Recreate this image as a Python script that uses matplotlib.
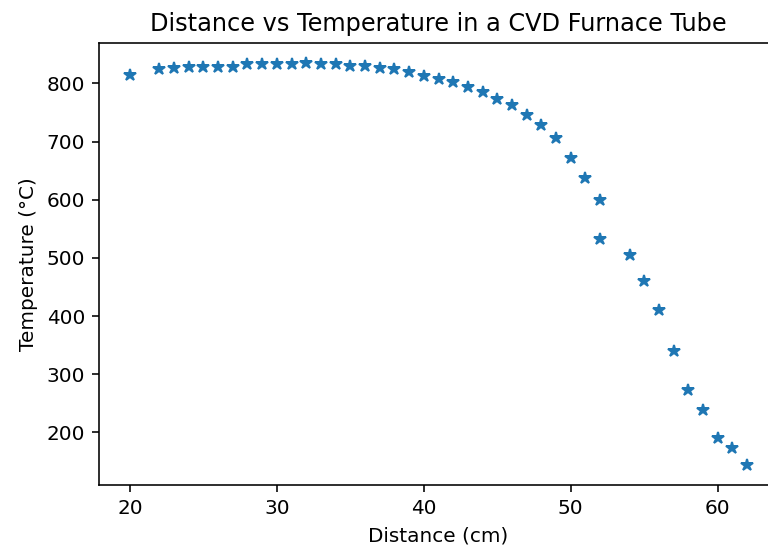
import matplotlib
matplotlib.use("Agg")
import matplotlib.pyplot as plt

# distance along the tube (cm) and measured temperature (C)
distance = [20, 22, 23, 24, 25, 26, 27, 28, 29, 30, 31, 32, 33, 34, 35, 36,
            37, 38, 39, 40, 41, 42, 43, 44, 45, 46, 47, 48, 49, 50, 51, 52,
            52, 54, 55, 56, 57, 58, 59, 60, 61, 62]
temperature = [814, 824, 826, 828, 829, 829, 829, 834, 834, 834, 834, 835,
               834, 833, 830, 830, 826, 824, 820, 813, 808, 802, 794, 785,
               774, 763, 745, 728, 707, 672, 638, 599, 532, 505, 460, 410,
               340, 273, 239, 190, 173, 144]

dpi = 144
fig = plt.figure(figsize=(768 / dpi, 551 / dpi), dpi=dpi)
# the original screenshot is cropped on the right, so the axes run past the edge
ax = fig.add_axes([99 / 768, 66 / 551, 679 / 768, 442 / 551])
ax.plot(distance, temperature, '*')
ax.set_title("Distance vs Temperature in a CVD Furnace Tube")
ax.set_xlabel("Distance (cm)")
ax.set_ylabel("Temperature (°C)")

fig.savefig("out.png", dpi=dpi)
